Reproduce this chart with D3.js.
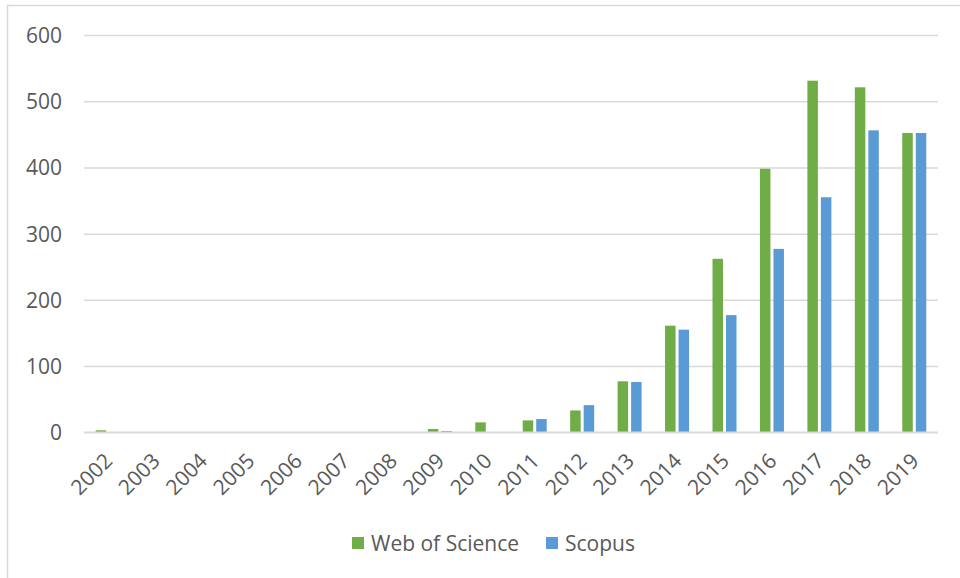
<!DOCTYPE html>
<html><head><meta charset="utf-8">
<script src="https://cdn.jsdelivr.net/npm/d3@7"></script>
<style>html,body{margin:0;padding:0;background:#fff;}svg{display:block;}</style>
</head><body>
<svg id="chart" width="960" height="578"></svg>
<script>
const years = ["2002","2003","2004","2005","2006","2007","2008","2009","2010","2011","2012","2013","2014","2015","2016","2017","2018","2019"];
const seriesNames = ["Web of Science","Scopus"];
const webOfScience = [3,0,0,0,0,0,0,5,15,18,33,77,161,262,398,531,521,452];
const scopus = [0,0,0,0,0,0,0,2,0,20,41,76,155,177,277,355,456,452];
const yTicks = [0,100,200,300,400,500,600];
const colors = ["#70AD47","#5B9BD5"];

const svg = d3.select("#chart");
const font = "'Open Sans', sans-serif";
const textColor = "#595959";
const fs = "21px";

// outer frame
svg.append("rect").attr("x",7.5).attr("y",5.5).attr("width",1000).attr("height",1000)
  .attr("fill","none").attr("stroke","#d9d9d9").attr("stroke-width",1.5);

const x = d3.scaleBand().domain(years).range([84,938]).paddingInner(0).paddingOuter(0);
const x1 = d3.scaleBand().domain(seriesNames).range([-12,12]).paddingInner(0.222);
const y = d3.scaleLinear().domain([0,600]).range([432.3,35]);

// gridlines
const yAxis = d3.axisLeft(y).tickValues(yTicks).tickSize(-(938-84)).tickPadding(22).tickFormat(d3.format("d"));
const gy = svg.append("g").attr("transform","translate(84,0)").call(yAxis);
gy.select(".domain").remove();
gy.selectAll(".tick line").attr("stroke","#d9d9d9").attr("stroke-width",1.5);
gy.selectAll(".tick text").attr("fill",textColor).style("font-family",font).style("font-size",fs).attr("dy","0.35em");

// bars
const data = years.map((yr,i)=>({year:yr, vals:[webOfScience[i], scopus[i]]}));
const groups = svg.append("g").selectAll("g").data(data).join("g")
  .attr("transform",d=>`translate(${x(d.year)+x.bandwidth()/2},0)`);
groups.selectAll("rect").data(d=>d.vals.map((v,j)=>({v, s:seriesNames[j], c:colors[j]})))
  .join("rect")
  .attr("x",d=>x1(d.s)).attr("width",x1.bandwidth())
  .attr("y",d=>y(d.v)).attr("height",d=>y(0)-y(d.v))
  .attr("fill",d=>d.c);

// baseline
svg.append("line").attr("x1",84).attr("x2",938).attr("y1",y(0)).attr("y2",y(0))
  .attr("stroke","#d9d9d9").attr("stroke-width",1.5);

// x axis labels
const xAxis = d3.axisBottom(x).tickSize(0).tickPadding(0);
const gx = svg.append("g").attr("transform",`translate(0,${y(0)})`).call(xAxis);
gx.select(".domain").remove();
gx.selectAll(".tick text").attr("fill",textColor).style("font-family",font).style("font-size",fs)
  .attr("text-anchor","end").attr("dy",0).attr("y",0)
  .attr("transform","translate(6,30) rotate(-45)");

// legend
const legend = svg.append("g");
const legendItems = [{name:seriesNames[0], c:colors[0], x:352},{name:seriesNames[1], c:colors[1], x:546}];
legendItems.forEach(it=>{
  legend.append("rect").attr("x",it.x).attr("y",537).attr("width",12).attr("height",12).attr("fill",it.c);
  legend.append("text").attr("x",it.x+19).attr("y",551).text(it.name)
    .attr("fill",textColor).style("font-family",font).style("font-size",fs);
});
</script>
</body></html>
